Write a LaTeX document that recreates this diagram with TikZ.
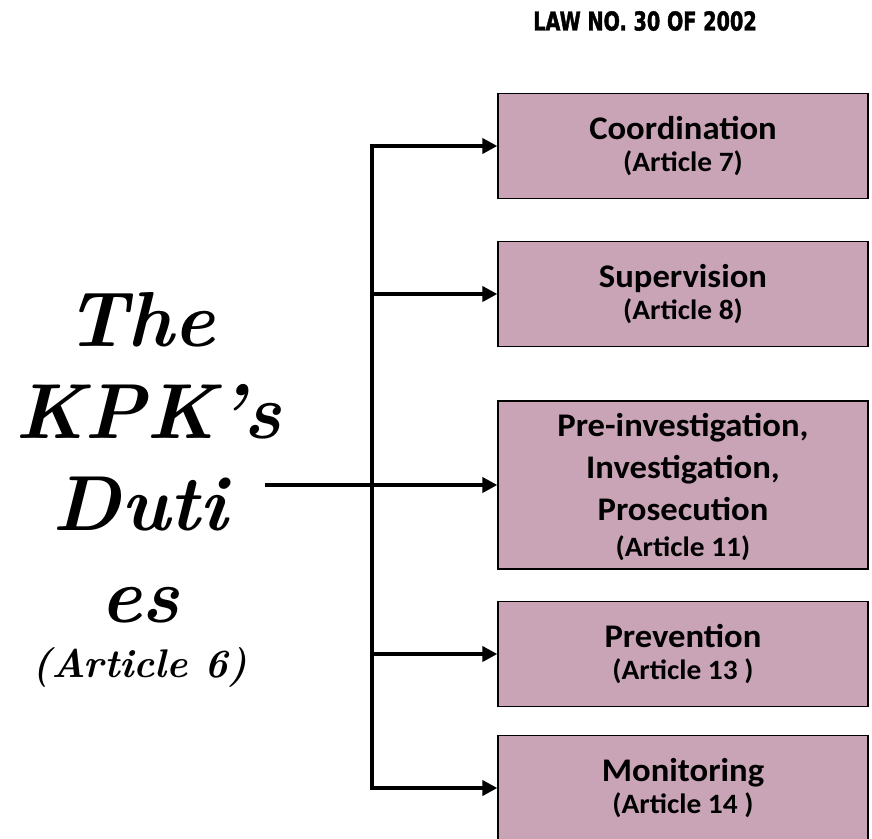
\documentclass[tikz,border=0pt]{standalone}
\usepackage{fontspec}
\usetikzlibrary{arrows.meta}
\newfontfamily\boxfont{Carlito}[FakeStretch=1.05]
\newfontfamily\lawfont{DejaVu Sans}[FakeStretch=0.74,FakeBold=1.5]
\definecolor{mauve}{RGB}{201,163,182}
\tikzstyle{duty}=[rectangle,draw=black,line width=1.3pt,fill=mauve,minimum width=370pt,minimum height=105pt,align=center,font=\boxfont\bfseries\fontsize{33}{42}\selectfont]
\tikzstyle{arr}=[-{Triangle[length=15pt,width=15pt]},line width=4pt]
\newcommand{\artsize}{\fontsize{28}{34}\selectfont}

\begin{document}
\begin{tikzpicture}[x=1pt,y=-1pt]
\useasboundingbox (0,0) rectangle (872,838);

\node (law) at (645,21) {\lawfont\bfseries\fontsize{26}{28}\selectfont LAW NO. 30 OF 2002};

\node (duties) at (140,458) [text width=250pt,inner sep=0pt,align=center,font=\bfseries\itshape\fontsize{78}{92}\selectfont] {The\\ KPK's\\ Duti\\ es};
\node (art6) at (140,667) [font=\bfseries\itshape\fontsize{40}{42}\selectfont] {(Article 6)};

\node (coord) at (683,146) [duty] {Coordination\\[-10pt] \artsize (Article 7)};
\node (superv) at (683,294) [duty] {Supervision\\[-10pt] \artsize (Article 8)};
\node (preinv) at (683,485) [duty,minimum height=168pt,text depth=0pt] {Pre-investigation,\\ Investigation,\\ Prosecution\\[-6pt] \artsize (Article 11)};
\node (prev) at (683,654) [duty] {Prevention\\[-10pt] \artsize (Article 13 )};
\node (monit) at (683,788) [duty] {Monitoring\\[-10pt] \artsize (Article 14 )};

\coordinate (bus) at (372,485);

\draw[arr] (duties.east |- bus) -- (bus -| preinv.west);
\draw[arr] (bus) |- (coord);
\draw[arr] (bus) |- (monit);
\draw[arr] (bus |- superv) -- (superv);
\draw[arr] (bus |- prev) -- (prev);

\end{tikzpicture}
\end{document}
